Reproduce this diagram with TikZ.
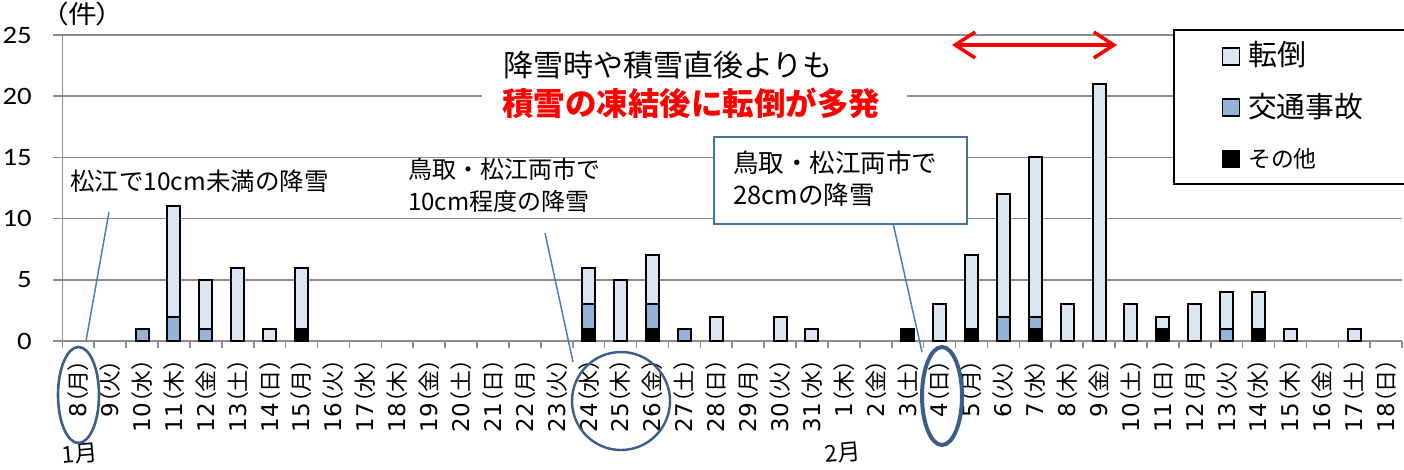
\documentclass[tikz,border=0pt]{standalone}
\usepackage{fontspec}
\setmainfont{Noto Sans CJK JP}
\newfontfamily\axisfont{Carlito}
\newfontfamily\cjkp[RawFeature=+palt]{Noto Sans CJK JP}
\newfontfamily\labdigfont{DejaVu Sans}
\usetikzlibrary{shapes.geometric,arrows.meta}
\definecolor{gridgray}{HTML}{8C8C8C}
\definecolor{fallc}{HTML}{DCE6F2}
\definecolor{trafc}{HTML}{95B3D7}
\definecolor{ptrblue}{HTML}{4A7EBB}
\definecolor{ringblue}{HTML}{3A5D8C}
\definecolor{boxblue}{HTML}{41719C}
\definecolor{hotred}{HTML}{FF0000}
\newcommand{\fs}[1]{\fontsize{#1}{#1}\selectfont}
\newcommand{\labdig}{\labdigfont\fs{23}}
\newcommand{\seg}[4]{%
  \draw[#4] ({62.3+(#1+0.5)*31.9-6.5},{341-12.24*#2}) rectangle ({62.3+(#1+0.5)*31.9+6.5},{341-12.24*#3});}
\newcommand{\fallbar}[3]{\seg{#1}{#2}{#3}{barfall}}
\newcommand{\trafbar}[3]{\seg{#1}{#2}{#3}{bartraf}}
\newcommand{\othbar}[3]{\seg{#1}{#2}{#3}{barother}}
\begin{document}
\begin{tikzpicture}[x=1pt,y=-1pt,
  gridline/.style={draw=gridgray,line width=1.6pt},
  barfall/.style={fill=fallc,draw=black,line width=2pt},
  bartraf/.style={fill=trafc,draw=black,line width=2pt},
  barother/.style={fill=black,draw=black,line width=2pt},
  catlabel/.style={rotate=90,anchor=east,inner sep=0pt,font=\cjkp\fs{22}},
  ylab/.style={anchor=east,inner sep=0pt,xscale=1.15,font=\axisfont\fs{25}},
  ptr/.style={draw=ptrblue,line width=1.5pt},
  ring/.style={ellipse,draw=ringblue,inner sep=0pt},
  legsq/.style={draw=black,line width=1.8pt,minimum size=17pt,inner sep=0pt},
  legtext/.style={anchor=west,inner sep=0pt}]
\useasboundingbox (0,0) rectangle (1404,469);
\fill[white] (0,0) rectangle (1404,469);
% gridlines
\foreach \v in {0,5,...,25}{
  \draw[gridline] (53,{341-12.24*\v}) -- (1402,{341-12.24*\v});
  \node[ylab] (y\v) at (32,{341-12.24*\v}) {\v};
}
\draw[gridline] (62.3,35) -- (62.3,348);
\foreach \k in {1,...,42}{
  \draw[gridline] ({62.3+\k*31.9},341) -- ({62.3+\k*31.9},348);
}
\node[inner sep=0pt,xscale=1.15,font=\cjkp\fs{25}] (unit) at (82.5,13.5) {（件）};
% category labels
\foreach \d/\w [count=\i from 0] in {8/月,9/火,10/水,11/木,12/金,13/土,14/日,15/月,16/火,17/水,18/木,19/金,20/土,21/日,22/月,23/火,24/水,25/木,26/金,27/土,28/日,29/月,30/火,31/水,1/木,2/金,3/土,4/日,5/月,6/火,7/水,8/木,9/金,10/土,11/日,12/月,13/火,14/水,15/木,16/金,17/土,18/日}{
  \node[catlabel] (c\i) at ({62.3+(\i+0.5)*31.9},359) {{\labdig\d}（\w）};
}
\node[rotate=5,inner sep=0pt,font=\fs{23}] (m1) at (80,454) {1月};
\node[rotate=5,inner sep=0pt,font=\fs{23}] (m2) at (843,453) {2月};
% white boxes
\node[fill=white,minimum width=425pt,minimum height=86pt,anchor=north west,inner sep=0pt] (titlebox) at (482,42) {};
\node[anchor=west,inner sep=0pt,font=\fs{30}] (t1) at (503,65) {降雪時や積雪直後よりも};
\node[anchor=west,inner sep=0pt,font=\bfseries\fs{31.5},text=hotred] (t2) at (502,103) {積雪の凍結後に転倒が多発};
\draw[hotred,line width=3.5pt,{Straight Barb[length=20pt,width=26pt]}-{Straight Barb[length=20pt,width=26pt]}] (952,45) -- (1117,45);
% legend
\draw[fill=white,draw=black,line width=2pt] (1174,30) rectangle (1410,184);
\node[legsq,fill=fallc] (lf) at (1231,56.5) {};
\node[legtext,font=\fs{29}] (lft) at (1248,55) {転倒};
\node[legsq,fill=trafc] (lt) at (1231,107.5) {};
\node[legtext,font=\fs{28.75}] (ltt) at (1248,107) {交通事故};
\node[legsq,fill=black] (lo) at (1231,159) {};
\node[legtext,font=\fs{22.8}] (lot) at (1248,159) {その他};
% callout 3 box
\node[draw=boxblue,line width=1.6pt,fill=white,minimum width=253pt,minimum height=87pt,anchor=north west,inner sep=0pt] (box3) at (713,136) {};
\node[anchor=west,inner sep=0pt,font=\fs{25.5}] (b3a) at (733,163) {鳥取・松江両市で};
\node[anchor=west,inner sep=0pt,font=\fs{25.5}] (b3b) at (733,195) {28cmの降雪};
% bars
\trafbar{2}{0}{1}
\trafbar{3}{0}{2}\fallbar{3}{2}{11}
\trafbar{4}{0}{1}\fallbar{4}{1}{5}
\fallbar{5}{0}{6}
\fallbar{6}{0}{1}
\othbar{7}{0}{1}\fallbar{7}{1}{6}
\othbar{16}{0}{1}\trafbar{16}{1}{3}\fallbar{16}{3}{6}
\fallbar{17}{0}{5}
\othbar{18}{0}{1}\trafbar{18}{1}{3}\fallbar{18}{3}{7}
\trafbar{19}{0}{1}
\fallbar{20}{0}{2}
\fallbar{22}{0}{2}
\fallbar{23}{0}{1}
\othbar{26}{0}{1}
\fallbar{27}{0}{3}
\othbar{28}{0}{1}\fallbar{28}{1}{7}
\trafbar{29}{0}{2}\fallbar{29}{2}{12}
\othbar{30}{0}{1}\trafbar{30}{1}{2}\fallbar{30}{2}{15}
\fallbar{31}{0}{3}
\fallbar{32}{0}{21}
\fallbar{33}{0}{3}
\othbar{34}{0}{1}\fallbar{34}{1}{2}
\fallbar{35}{0}{3}
\trafbar{36}{0}{1}\fallbar{36}{1}{4}
\othbar{37}{0}{1}\fallbar{37}{1}{4}
\fallbar{38}{0}{1}
\fallbar{40}{0}{1}
% callouts 1 and 2
\node[anchor=west,inner sep=0pt,font=\fs{24.5}] (b1) at (70,181) {松江で10cm未満の降雪};
\node[anchor=west,inner sep=0pt,font=\fs{24}] (b2a) at (408,169) {鳥取・松江両市で};
\node[anchor=west,inner sep=0pt,font=\fs{24}] (b2b) at (408,201) {10cm程度の降雪};
% rings
\node[ring,line width=2.6pt,minimum width=41pt,minimum height=96pt] (r1) at (78.5,395) {};
\node[ring,line width=2.4pt,minimum width=98pt,minimum height=98pt] (r2) at (621,401) {};
\node[ring,line width=4pt,minimum width=40pt,minimum height=98pt] (r3) at (942,396) {};
% pointers
\coordinate (p1s) at (109,212);
\coordinate (p1e) at (86,341);
\coordinate (p2s) at (545,233);
\coordinate (p2e) at (573,362);
\coordinate (p3s) at (893,223);
\coordinate (p3e) at (922,352);
\draw[ptr] (p1s) -- (p1e);
\draw[ptr] (p2s) -- (p2e);
\draw[ptr] (p3s) -- (p3e);
\end{tikzpicture}
\end{document}
